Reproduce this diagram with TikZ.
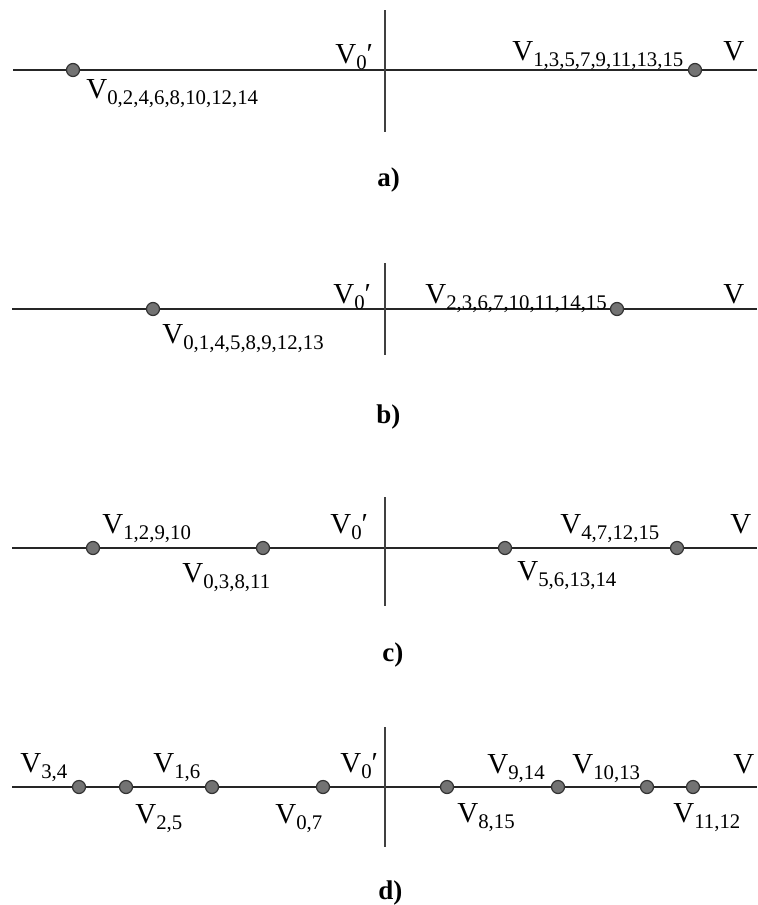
\documentclass[tikz,border=0pt]{standalone}
\usepackage{fontspec}
\setmainfont{Liberation Serif}
\usetikzlibrary{positioning}

% V with a lowered index list
\newcommand{\Vsub}[1]{V\raisebox{-3.2pt}{\fontsize{10.4}{10.4}\selectfont #1}}
\newcommand{\Vnull}{V\raisebox{-3.2pt}{\fontsize{10.4}{10.4}\selectfont 0}′}

\begin{document}
\begin{tikzpicture}[x=0.5pt, y=-0.5pt,
    axis/.style={line width=1pt, black!85},
    vaxis/.style={line width=0.7pt, black!75},
    dot/.style={circle, draw=black!80, fill=black!55, line width=0.6pt, minimum size=6.5pt, inner sep=0pt},
    lbl/.style={anchor=base west, inner sep=0pt, font=\fontsize{14.5}{14.5}\selectfont},
    tag/.style={anchor=west, inner sep=0pt, font=\fontsize{13.5}{13.5}\selectfont\bfseries}]

    \useasboundingbox (0,0) rectangle (757,905);

    % a) 两个点
    \coordinate (aL) at (13,70);   \coordinate (aR) at (757,70);
    \coordinate (aT) at (385,10);  \coordinate (aB) at (385,132);
    \draw[axis] (aL) -- (aR);
    \draw[vaxis] (aT) -- (aB);
    \foreach \x [count=\i] in {73, 695} {
        \node[dot] (a\i) at (\x,70) {};
    }
    \node[lbl] (a-v0)  at (86,98)  {\Vsub{0,2,4,6,8,10,12,14}};
    \node[lbl] (a-v1)  at (512,60) {\Vsub{1,3,5,7,9,11,13,15}};
    \node[lbl] (a-v00) at (335,63) {\Vnull};
    \node[lbl] (a-v)   at (723,60) {V};
    \node[tag] (a-tag) at (377,180) {a)};

    % b) 两个点
    \coordinate (bL) at (12,309);  \coordinate (bR) at (757,309);
    \coordinate (bT) at (385,263); \coordinate (bB) at (385,355);
    \draw[axis] (bL) -- (bR);
    \draw[vaxis] (bT) -- (bB);
    \foreach \x [count=\i] in {153, 617} {
        \node[dot] (b\i) at (\x,309) {};
    }
    \node[lbl] (b-v0)  at (162,343) {\Vsub{0,1,4,5,8,9,12,13}};
    \node[lbl] (b-v1)  at (425,303) {\Vsub{2,3,6,7,10,11,14,15}};
    \node[lbl] (b-v00) at (333,303) {\Vnull};
    \node[lbl] (b-v)   at (723,303) {V};
    \node[tag] (b-tag) at (376,417) {b)};

    % c) 四个点
    \coordinate (cL) at (12,548);  \coordinate (cR) at (757,548);
    \coordinate (cT) at (385,497); \coordinate (cB) at (385,606);
    \draw[axis] (cL) -- (cR);
    \draw[vaxis] (cT) -- (cB);
    \foreach \x [count=\i] in {93, 263, 505, 677} {
        \node[dot] (c\i) at (\x,548) {};
    }
    \node[lbl] (c-v1)  at (102,533) {\Vsub{1,2,9,10}};
    \node[lbl] (c-v0)  at (182,582) {\Vsub{0,3,8,11}};
    \node[lbl] (c-v5)  at (517,580) {\Vsub{5,6,13,14}};
    \node[lbl] (c-v4)  at (560,533) {\Vsub{4,7,12,15}};
    \node[lbl] (c-v00) at (330,533) {\Vnull};
    \node[lbl] (c-v)   at (730,533) {V};
    \node[tag] (c-tag) at (382,655) {c)};

    % d) 八个点
    \coordinate (dL) at (12,787);  \coordinate (dR) at (757,787);
    \coordinate (dT) at (385,727); \coordinate (dB) at (385,847);
    \draw[axis] (dL) -- (dR);
    \draw[vaxis] (dT) -- (dB);
    \foreach \x [count=\i] in {79, 126, 212, 323, 447, 558, 647, 693} {
        \node[dot] (d\i) at (\x,787) {};
    }
    \node[lbl] (d-v34)  at (20,772)  {\Vsub{3,4}};
    \node[lbl] (d-v25)  at (135,823) {\Vsub{2,5}};
    \node[lbl] (d-v16)  at (153,772) {\Vsub{1,6}};
    \node[lbl] (d-v07)  at (275,823) {\Vsub{0,7}};
    \node[lbl] (d-v815) at (457,822) {\Vsub{8,15}};
    \node[lbl] (d-v914) at (487,773) {\Vsub{9,14}};
    \node[lbl] (d-v1013) at (572,773) {\Vsub{10,13}};
    \node[lbl] (d-v1112) at (673,822) {\Vsub{11,12}};
    \node[lbl] (d-v00) at (340,772) {\Vnull};
    \node[lbl] (d-v)   at (733,773) {V};
    \node[tag] (d-tag) at (378,893) {d)};
\end{tikzpicture}
\end{document}
